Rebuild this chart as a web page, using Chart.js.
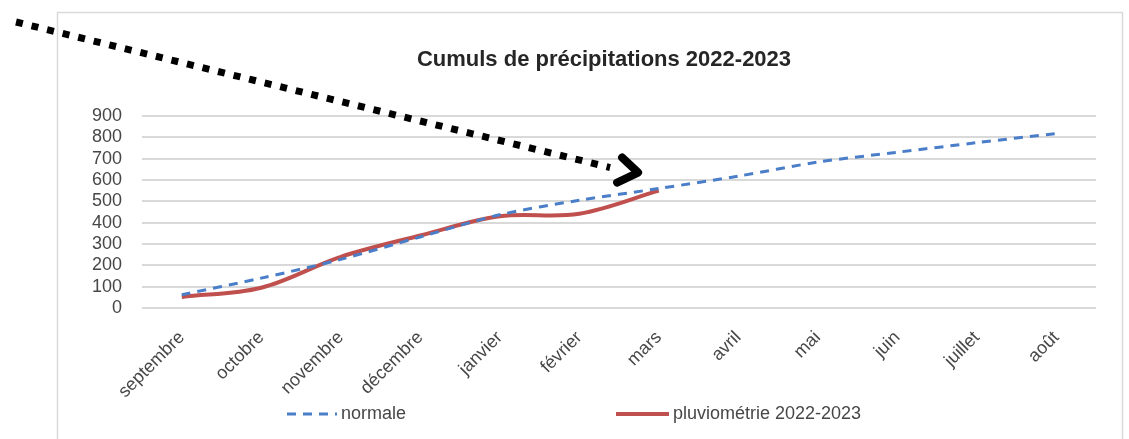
<!DOCTYPE html>
<html lang="fr">
<head>
  <meta charset="UTF-8">
  <title>Cumuls de précipitations 2022-2023</title>
  <script src="https://cdn.jsdelivr.net/npm/chart.js"></script>
  <style>
    html, body { margin: 0; padding: 0; background: #ffffff; }
    #wrap { position: relative; width: 1129px; height: 439px; }
  </style>
</head>
<body>
  <div id="wrap">
    <canvas id="rainChart" width="1129" height="439"></canvas>
  </div>

  <script>
    // Données (mm cumulés)
    const mois = ['septembre', 'octobre', 'novembre', 'décembre', 'janvier', 'février',
                  'mars', 'avril', 'mai', 'juin', 'juillet', 'août'];
    const normale = [62, 140, 228, 333, 437, 505, 560, 618, 684, 730, 775, 818];
    const pluvio2022 = [52, 95, 240, 340, 430, 442, 550];
    const graduations = [0, 100, 200, 300, 400, 500, 600, 700, 800, 900];
    const titre = 'Cumuls de précipitations 2022-2023';

    const bleu = '#4a7ec8';
    const rouge = '#c0504d';
    const gris = '#474747';
    const police = '"Liberation Sans", Arial, sans-serif';

    // Cadre gris autour du graphique + titre (décalé comme dans Excel)
    const cadre = {
      id: 'cadre',
      beforeDraw(chart) {
        const ctx = chart.ctx;
        ctx.save();
        ctx.strokeStyle = '#d9d9d9';
        ctx.lineWidth = 1.5;
        ctx.strokeRect(57.5, 12.5, 1065, 440);
        ctx.fillStyle = '#262626';
        ctx.font = 'bold 22px ' + police;
        ctx.textAlign = 'center';
        ctx.textBaseline = 'middle';
        ctx.fillText(titre, 604, 60);
        ctx.restore();
      }
    };

    // Légende dessinée à la main (espacement large comme dans Excel)
    const legende = {
      id: 'legende',
      afterDraw(chart) {
        const ctx = chart.ctx;
        const y = 414;
        ctx.save();
        ctx.font = '18px ' + police;
        ctx.fillStyle = gris;
        ctx.textBaseline = 'middle';
        chart.data.datasets.forEach((ds, i) => {
          const x0 = i === 0 ? 287 : 616;
          const w = i === 0 ? 50 : 53;
          ctx.beginPath();
          ctx.strokeStyle = ds.borderColor;
          ctx.lineWidth = ds.borderWidth;
          ctx.setLineDash(ds.borderDash || []);
          ctx.moveTo(x0, y);
          ctx.lineTo(x0 + w, y);
          ctx.stroke();
          ctx.setLineDash([]);
          ctx.fillText(ds.label, x0 + w + 4, y);
        });
        ctx.restore();
      }
    };

    // Flèche pointillée noire ajoutée sur l'image
    const fleche = {
      id: 'fleche',
      afterDraw(chart) {
        const ctx = chart.ctx;
        const xs = chart.scales.x, ys = chart.scales.y;
        const tipX = xs.getPixelForValue(5.74);
        const tipY = ys.getPixelForValue(635);
        ctx.save();
        ctx.strokeStyle = '#000000';
        ctx.lineWidth = 7;
        ctx.lineCap = 'butt';
        ctx.setLineDash([7, 9]);
        ctx.beginPath();
        ctx.moveTo(16, 22);
        ctx.lineTo(tipX - 28, tipY - 5);
        ctx.stroke();
        ctx.setLineDash([]);
        ctx.lineCap = 'round';
        ctx.lineJoin = 'round';
        ctx.lineWidth = 8;
        ctx.beginPath();
        ctx.moveTo(tipX - 16, tipY - 15);
        ctx.lineTo(tipX, tipY);
        ctx.lineTo(tipX - 21, tipY + 10);
        ctx.stroke();
        ctx.restore();
      }
    };

    new Chart(document.getElementById('rainChart').getContext('2d'), {
      type: 'line',
      data: {
        labels: mois,
        datasets: [
          {
            label: 'normale',
            data: normale,
            borderColor: bleu,
            borderWidth: 3,
            borderDash: [9, 7],
            pointRadius: 0,
            tension: 0.3,
            fill: false
          },
          {
            label: 'pluviométrie 2022-2023',
            data: pluvio2022,
            borderColor: rouge,
            borderWidth: 4,
            pointRadius: 0,
            tension: 0.35,
            fill: false
          }
        ]
      },
      options: {
        responsive: false,
        animation: false,
        layout: { padding: { left: 82, right: 33, top: 116, bottom: 0 } },
        plugins: {
          legend: { display: false },
          tooltip: { enabled: false },
          title: { display: false }
        },
        scales: {
          x: {
            offset: true,
            grid: { display: false },
            border: { display: false },
            ticks: {
              color: gris,
              font: { family: police, size: 18 },
              minRotation: 45,
              maxRotation: 45,
              autoSkip: false,
              padding: 11
            },
            afterFit: s => { s.height = 131; }
          },
          y: {
            min: graduations[0],
            max: graduations[graduations.length - 1],
            border: { display: false },
            grid: { color: '#d9d9d9', lineWidth: 2, drawTicks: false },
            ticks: {
              stepSize: graduations[1] - graduations[0],
              autoSkip: false,
              color: gris,
              font: { family: police, size: 18 },
              padding: 20
            },
            afterFit: s => { s.width = 60; }
          }
        }
      },
      plugins: [cadre, legende, fleche]
    });
  </script>
</body>
</html>
